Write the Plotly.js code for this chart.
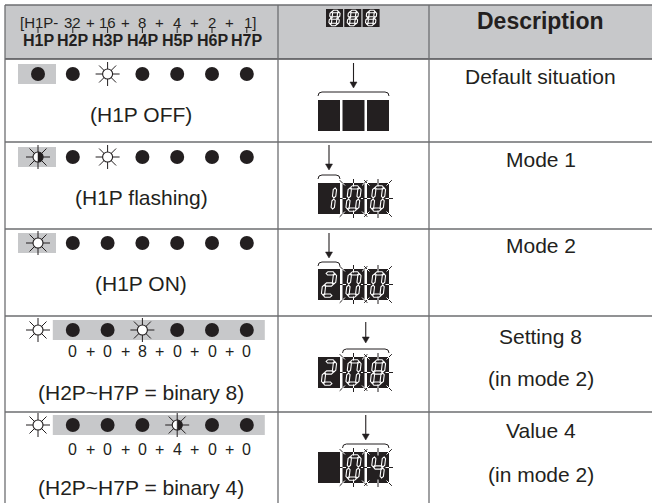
<!DOCTYPE html>
<html><head><meta charset="utf-8">
<script src="https://cdn.plot.ly/plotly-3.0.1.min.js"></script>
<style>html,body{margin:0;padding:0;background:#fff}#chart{width:652px;height:503px}</style>
</head><body><div id="chart"></div>
<script>
// ---------------- data ----------------
const ledNames = ['H1P','H2P','H3P','H4P','H5P','H6P','H7P'];
const weightLabels = ['[H1P-','32','16','8','4','2','1]'];
const ledStates = [
  ['off','off','on','off','off','off','off'],
  ['flash','off','on','off','off','off','off'],
  ['on','off','off','off','off','off','off'],
  ['on','off','off','on','off','off','off'],
  ['on','off','off','off','flash','off','off']
];
const highlightSpans = [[0,0],[0,0],[0,0],[1,6],[1,6]];
const binaryTerms = [null,null,null,['0','0','8','0','0','0'],['0','0','0','4','0','0']];
const rowLabels = ['(H1P OFF)','(H1P flashing)','(H1P ON)','(H2P~H7P = binary 8)','(H2P~H7P = binary 4)'];
const headerDisplay = ['8','8','8'];
const displayDigits = [[' ',' ',' '],['1','0','0'],['2','0','0'],['2','0','8'],[' ','0','4']];
const displayFlashing = [[0,0,0],[0,1,1],[0,1,1],[0,1,1],[0,1,1]];
const braceSpans = [[0,2],[0,0],[0,0],[1,2],[1,2]];
const columnHeader = 'Description';
const descriptions = [['Default situation'],['Mode 1'],['Mode 2'],['Setting 8','(in mode 2)'],['Value 4','(in mode 2)']];

// ---------------- layout constants ----------------
const W = 652, H = 503;
const INK = '#231f20', GRID = '#6d6e71', HEAD = '#c7c8ca';
const FONT = 'Liberation Sans, Arial, Helvetica, sans-serif';
const LED_X0 = 38, LED_DX = 34.8;
const ledX = i => LED_X0 + i*LED_DX;
const rowLines = [142, 229, 316, 412];
const ledY = [74, 157, 243, 330, 425];
const labelY = [114, 197, 283, 392, 487];
const termY = [null, null, null, 351, 449];
const arrowTop = [63, 145, 233, 322, 415];
const arrowBot = [88, 170, 258, 343, 440];
const braceY = [92, 175, 262, 349, 444];
const blockTop = [100, 183, 269, 357, 452];
const BW = 22, BH = 31, BX0 = 318, BDX = 24.5;
const blockX = j => BX0 + j*BDX;
const descY = [[76],[159],[245],[336,378],[430,474]];
const COL1 = 278, COL2 = 429;

const shapes = [];
const annotations = [];

function line(x0,y0,x1,y1,color,width,layer){
  shapes.push({type:'line',xref:'x',yref:'y',x0,y0,x1,y1,line:{color,width},layer:layer||'above'});
}
function rect(x0,y0,x1,y1,fill,layer){
  shapes.push({type:'rect',xref:'x',yref:'y',x0,y0,x1,y1,fillcolor:fill,line:{width:0},layer:layer||'above'});
}
function path(d,opts){
  shapes.push(Object.assign({type:'path',xref:'x',yref:'y',path:d,layer:'above'},opts));
}
function text(t,x,y,size,opts){
  annotations.push(Object.assign({text:t,x,y,xref:'x',yref:'y',showarrow:false,
    font:{family:FONT,size,color:INK},xanchor:'center',yanchor:'middle'},opts||{}));
}

// header + grid
rect(5,5,W,59,HEAD,'below');
line(5,5,W,5,GRID,1.3);
line(5,59,W,59,'#4d4d4f',1.5);
line(5,5,5,H,GRID,1.3);
line(COL1,5,COL1,H,GRID,1.3);
line(COL2,5,COL2,H,GRID,1.3);
rowLines.forEach(y=>line(5,y,W,y,GRID,1.3));

// header LED captions
weightLabels.forEach((w,i)=>{
  let x = ledX(i);
  if(i===0) x = 39;
  if(i===6) x = ledX(i)+4;
  text(w,x,22,15);
  if(i<6 && i>0) text('+', (ledX(i)+ledX(i+1))/2, 22, 15);
  line(ledX(i),27,ledX(i),33,INK,1);
});
ledNames.forEach((n,i)=>text('<b>'+n+'</b>',ledX(i),40,16));
text('<b>'+columnHeader+'</b>',(COL2+W)/2,21,23);

// seven segment helper
const SEGS = {'0':'abcdef','1':'bc','2':'abged','4':'fgbc','8':'abcdefg',' ':''};
function digitShapes(x0,y0,w,h,ch){
  const L=x0+0.28*w, R=x0+0.72*w, T=y0+0.14*h, B=y0+0.86*h, M=(T+B)/2;
  const t=Math.max(2.2,w*0.15), g=0.6, s=0.12;
  const sk = (x,y)=>[(x+(M-y)*s).toFixed(2),y.toFixed(2)];
  const hseg=(x1,x2,y)=>[[x1+g,y],[x1+g+t/2,y-t/2],[x2-g-t/2,y-t/2],[x2-g,y],[x2-g-t/2,y+t/2],[x1+g+t/2,y+t/2]];
  const vseg=(x,y1,y2)=>[[x,y1+g],[x+t/2,y1+g+t/2],[x+t/2,y2-g-t/2],[x,y2-g],[x-t/2,y2-g-t/2],[x-t/2,y1+g+t/2]];
  const defs={a:hseg(L,R,T),b:vseg(R,T,M),c:vseg(R,M,B),d:hseg(L,R,B),e:vseg(L,M,B),f:vseg(L,T,M),g:hseg(L,R,M)};
  (SEGS[ch]||'').split('').forEach(k=>{
    const pts=defs[k].map(p=>sk(p[0],p[1]).join(','));
    path('M'+pts.join(' L')+' Z',{line:{color:'#ffffff',width:1.1},fillcolor:'rgba(0,0,0,0)'});
  });
}
function rays(x0,y0,w,h){
  const cx=x0+w/2, cy=y0+h/2, hw=w/2, hh=h/2;
  const dirs=[[0,-1],[0,1],[-1,0],[1,0],[-1,-1],[1,-1],[-1,1],[1,1]];
  dirs.forEach(d=>{
    const n=Math.hypot(d[0],d[1]); const ux=d[0]/n, uy=d[1]/n;
    const ex=cx+d[0]*hw, ey=cy+d[1]*hh;
    line(ex-ux*3.5,ey-uy*3.5,ex,ey,'#ffffff',1);
    line(ex,ey,ex+ux*4,ey+uy*4,INK,1);
  });
}

// header display icon
headerDisplay.forEach((ch,j)=>{
  const x0=326+j*18.3;
  rect(x0,9,x0+17,27,INK);
  digitShapes(x0,9,17,18,ch);
});

// display rows
displayDigits.forEach((row,r)=>{
  row.forEach((ch,j)=>{
    const x0=blockX(j), y0=blockTop[r];
    rect(x0,y0,x0+BW,y0+BH,INK);
    digitShapes(x0,y0,BW,BH,ch);
    if(displayFlashing[r][j]) rays(x0,y0,BW,BH);
  });
  const bx1=blockX(braceSpans[r][0]), bx2=blockX(braceSpans[r][1])+BW, by=braceY[r];
  path(`M${bx1},${by+4} Q${bx1},${by} ${bx1+4},${by} L${bx2-4},${by} Q${bx2},${by} ${bx2},${by+4}`,
       {line:{color:INK,width:1},fillcolor:'rgba(0,0,0,0)'});
  const ax=(bx1+bx2)/2;
  line(ax,arrowTop[r],ax,arrowBot[r]-5,INK,1.1);
  path(`M${ax-3.5},${arrowBot[r]-6} L${ax+3.5},${arrowBot[r]-6} L${ax},${arrowBot[r]} Z`,
       {line:{color:INK,width:0.5},fillcolor:INK});
});

// LED rows
const dots={x:[],y:[]}, suns={x:[],y:[]};
ledStates.forEach((row,r)=>{
  const hs=highlightSpans[r];
  rect(ledX(hs[0])-20,ledY[r]-10,ledX(hs[1])+18,ledY[r]+10,HEAD,'below');
  row.forEach((st,i)=>{
    if(st==='off'){dots.x.push(ledX(i));dots.y.push(ledY[r]);}
    else{
      suns.x.push(ledX(i));suns.y.push(ledY[r]);
      if(st==='flash'){
        const cx=ledX(i), cy=ledY[r], rr=5;
        path(`M${cx},${cy-rr} C${cx+rr*1.333},${cy-rr} ${cx+rr*1.333},${cy+rr} ${cx},${cy+rr} Z`,
             {line:{color:INK,width:0.5},fillcolor:INK});
      }
    }
  });
  text(rowLabels[r],141,labelY[r],21);
  if(binaryTerms[r]){
    binaryTerms[r].forEach((t,k)=>{
      text(t,ledX(k+1),termY[r],16);
      if(k<5) text('+',(ledX(k+1)+ledX(k+2))/2,termY[r],16);
    });
  }
  descriptions[r].forEach((d,k)=>text(d,(COL2+W)/2,descY[r][k],21));
});

const traces=[
  {type:'scatter',mode:'markers',x:dots.x,y:dots.y,hoverinfo:'skip',
   marker:{symbol:'circle',size:14,color:INK,line:{width:0}}},
  {type:'scatter',mode:'markers',x:suns.x,y:suns.y,hoverinfo:'skip',
   marker:{symbol:'asterisk-open',size:20,color:INK,line:{color:INK,width:1}}},
  {type:'scatter',mode:'markers',x:suns.x,y:suns.y,hoverinfo:'skip',
   marker:{symbol:'circle',size:10,color:'#ffffff',line:{color:INK,width:1.1}}}
];

const layout={
  width:W,height:H,margin:{l:0,r:0,t:0,b:0,pad:0},
  paper_bgcolor:'#ffffff',plot_bgcolor:'#ffffff',showlegend:false,
  xaxis:{range:[0,W],visible:false,fixedrange:true},
  yaxis:{range:[H,0],visible:false,fixedrange:true},
  shapes,annotations
};
Plotly.newPlot('chart',traces,layout,{staticPlot:true,displayModeBar:false});
</script></body></html>
